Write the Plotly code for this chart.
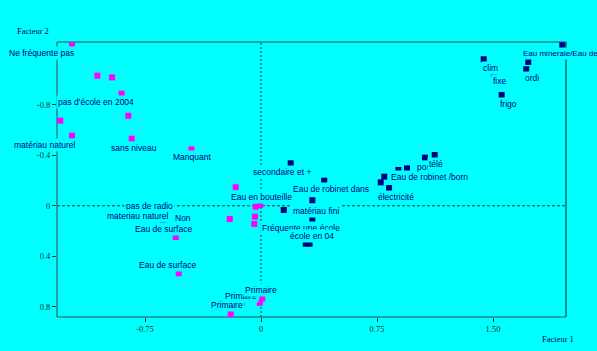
import plotly.graph_objects as go

# ---- data (factor coordinates) ----
pink_x = [-1.222, -1.058, -0.963, -0.901, -0.858, -1.298, -1.222, -0.836, -0.450, -0.164,
          -0.034, -0.006, -0.039, -0.043, -0.202, -0.551, -0.532, 0.008, -0.008, -0.196, -0.123]
pink_y = [-1.272, -1.032, -1.018, -0.889, -0.714, -0.675, -0.556, -0.532, -0.447, -0.147,
          0.007, -0.006, 0.086, 0.144, 0.105, 0.248, 0.535, 0.734, 0.769, 0.858, 0.771]

navy_x = [1.948, 1.440, 1.728, 1.715, 1.556, 1.506, 1.123, 1.060, 0.944, 0.888,
          0.797, 0.774, 0.828, 0.192, 0.409, 0.332, 0.147, 0.332, 0.289, 0.314, -0.634]
navy_y = [-1.273, -1.162, -1.141, -1.083, -0.879, -1.049, -0.403, -0.382, -0.297, -0.284,
          -0.231, -0.186, -0.141, -0.337, -0.199, -0.044, 0.033, 0.105, 0.301, 0.301, 0.129]

label_text = ["Ne fréquente pas", "pas d'école en 2004", "matériau naturel", "sans niveau",
              "Manquant", "Eau en bouteille", "pas de radio", "materiau naturel", "Non",
              "Eau de surface", "Eau de surface", "Primaire", "Primaire", "Primaire",
              "secondaire et +", "Eau de robinet dans", "matériau fini", "Fréquente une école",
              "école en 04", "Eau de robinet /born", "électricité", "port", "télé", "clim",
              "fixe", "ordi", "frigo", "Eau minerale/Eau de"]
label_group = ["p"] * 14 + ["n"] * 14
label_index = [0, 3, 6, 7, 8, 9, 10, 12, 14, 15, 16, 19, 18, 17,
               13, 14, 15, 17, 18, 10, 12, 7, 6, 1, 5, 3, 4, 0]

x_ticks = [-0.75, 0, 0.75, 1.5]
x_tick_text = ["-0.75", "0", "0.75", "1.50"]
y_ticks = [-0.8, -0.4, 0, 0.4, 0.8]
y_tick_text = ["-0.8", "-0.4", "0", "0.4", "0.8"]

# ---- label placement (pixel offsets from their point) ----
label_dx = [-30.5, -25.5, -27.5, 2, 1, 25.5, -106.7, -117, -46.7, -12.2, -11.7, -3.2, -19.2, -0.8,
            -8.7, 7.2, 3.7, -11.3, 6.3, 4.7, 7, -0.5, 1.8, 6.3, 6, 6.2, 7.3, -41.5]
label_dy = [8, 7.8, 9, 9, 8, 10, -0.7, -0.7, -1, -8, -8.3, -9, -6.7, -8.3,
            8.7, 8.3, 10.7, 9, -7.7, 0.3, 9, 9.3, 9, 8.7, 7.5, 8.7, 9, 8.7]
label_anchor = ["center"] * 19 + ["left"] + ["center"] * 7 + ["left"]
label_size = [8.5] * 27 + [8]

CYAN = "#00FFFF"
NAVY = "#000080"
PINK = "#FF00FF"

# plot-area pixel box (for placing the axis titles)
L, R, T, B = 57, 566, 42, 317

fig = go.Figure()
fig.add_trace(go.Scatter(x=pink_x, y=pink_y, mode="markers",
                         marker=dict(symbol="square", size=6, color=PINK, line=dict(width=0)),
                         hoverinfo="skip", showlegend=False))
fig.add_trace(go.Scatter(x=navy_x, y=navy_y, mode="markers",
                         marker=dict(symbol="square", size=6, color=NAVY, line=dict(width=0)),
                         hoverinfo="skip", showlegend=False))

annotations = []
for t, g, i, dx, dy, anc, sz in zip(label_text, label_group, label_index, label_dx, label_dy,
                                    label_anchor, label_size):
    px = pink_x[i] if g == "p" else navy_x[i]
    py = pink_y[i] if g == "p" else navy_y[i]
    annotations.append(dict(x=px, y=py, xref="x", yref="y", text=t, showarrow=False,
                            xanchor=anc, yanchor="middle", xshift=dx, yshift=-dy,
                            font=dict(family="Liberation Sans, Arial", size=sz, color=NAVY),
                            bgcolor=CYAN, borderpad=1))

def paper_xy(px, py):
    return (px - L) / (R - L), (B - py) / (B - T)

fx, fy = paper_xy(32.5, 31)
annotations.append(dict(x=fx, y=fy, xref="paper", yref="paper",
                        text="Facteur 2", showarrow=False, xanchor="center", yanchor="middle",
                        font=dict(family="Liberation Serif, Times New Roman", size=8.5, color="#000060")))
fx, fy = paper_xy(558, 339)
annotations.append(dict(x=fx, y=fy, xref="paper", yref="paper",
                        text="Facteur 1", showarrow=False, xanchor="center", yanchor="middle",
                        font=dict(family="Liberation Serif, Times New Roman", size=8.5, color="#000060")))

FRAME = "#2F4F4F"
shapes = [
    dict(type="line", xref="x", yref="paper", x0=0, x1=0, y0=0, y1=1,
         line=dict(color="#008080", width=1.5, dash="2px,2px"), layer="below"),
    dict(type="line", xref="paper", yref="y", x0=0, x1=1, y0=0, y1=0,
         line=dict(color="#333333", width=1, dash="3px,2px"), layer="below"),
    dict(type="line", xref="paper", yref="paper", x0=0, x1=0, y0=0, y1=1,
         line=dict(color=FRAME, width=1), layer="below"),
    dict(type="line", xref="paper", yref="paper", x0=0, x1=1, y0=1, y1=1,
         line=dict(color=FRAME, width=1), layer="below"),
    dict(type="line", xref="paper", yref="paper", x0=0, x1=1, y0=0, y1=0,
         line=dict(color=FRAME, width=1), layer="below"),
    dict(type="line", xref="paper", yref="paper", x0=1, x1=1, y0=0, y1=1,
         line=dict(color="#009090", width=2), layer="below"),
]

tickfont = dict(family="Liberation Serif, Times New Roman", size=8.5, color="#203030")

fig.update_layout(
    width=597, height=351,
    margin=dict(l=L, r=597 - R, t=T, b=351 - B),
    paper_bgcolor=CYAN, plot_bgcolor=CYAN,
    showlegend=False,
    annotations=annotations,
    shapes=shapes,
    xaxis=dict(range=[-1.319, 1.972], tickvals=x_ticks, ticktext=x_tick_text,
               showgrid=False, zeroline=False, showline=False,
               ticks="outside", ticklen=4, tickcolor="#333333", tickfont=tickfont),
    yaxis=dict(range=[0.882, -1.299], tickvals=y_ticks, ticktext=y_tick_text,
               showgrid=False, zeroline=False, showline=False,
               ticks="outside", ticklen=4, tickcolor="#333333", tickfont=tickfont),
)

fig.write_html("out.html")
